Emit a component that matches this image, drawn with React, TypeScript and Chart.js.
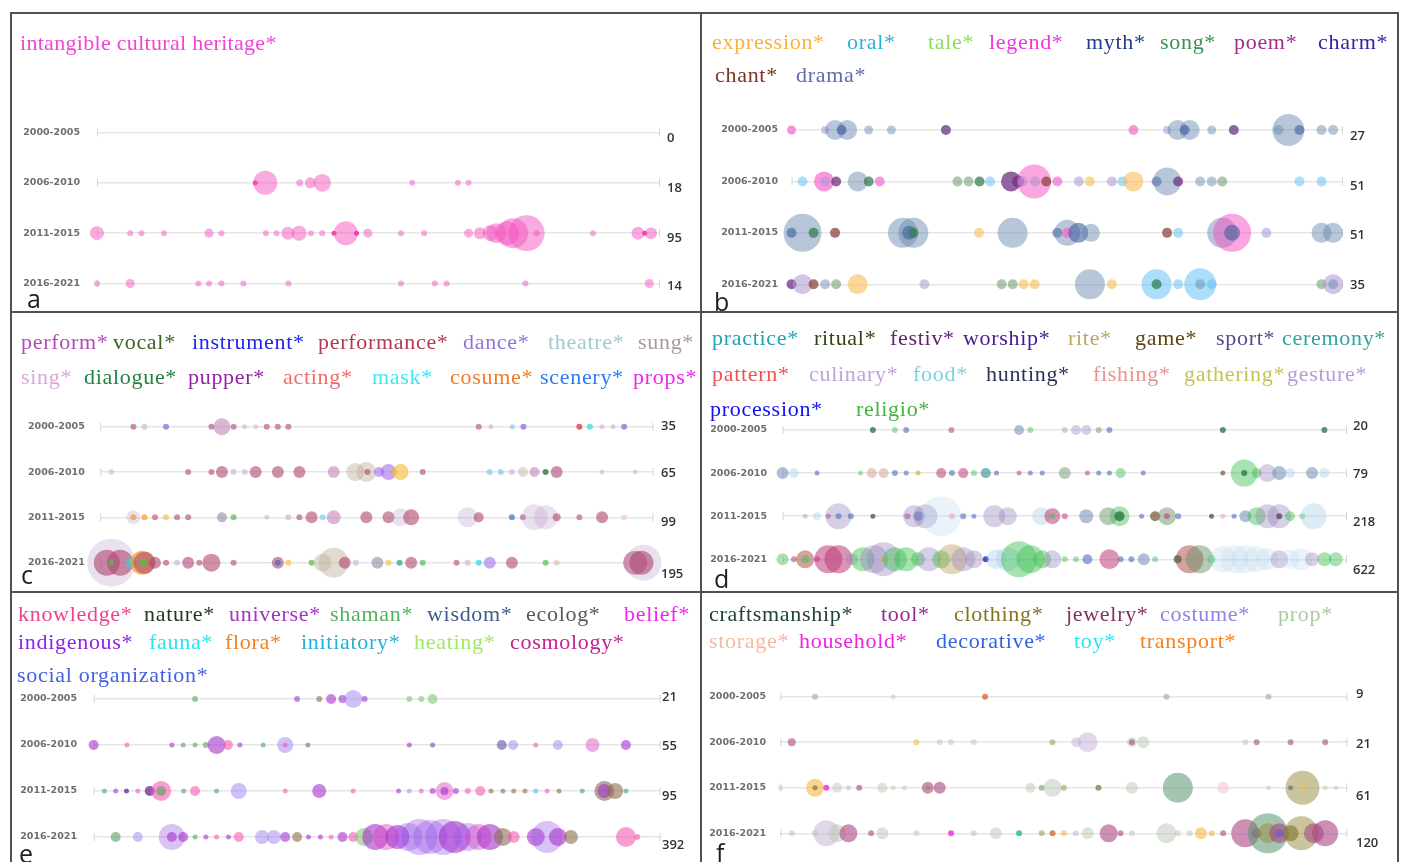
import React, { useEffect, useRef } from "react";
import { Chart, registerables } from "chart.js";

Chart.register(...registerables);

// ---------------- DATA ----------------
const periods = ["2000-2005", "2006-2010", "2011-2015", "2016-2021"];

const countsA = [0, 18, 95, 14];
const countsB = [27, 51, 51, 35];
const countsC = [35, 65, 99, 195];
const countsD = [20, 79, 218, 622];
const countsE = [21, 55, 95, 392];
const countsF = [9, 21, 61, 120];

// legend keywords (lines of words) and their colours
const wordsA = [["intangible cultural heritage*"]];
const colorsA = [["#f044d6"]];
const wordsB = [
  ["expression*", "oral*", "tale*", "legend*", "myth*", "song*", "poem*", "charm*"],
  ["chant*", "drama*"],
];
const colorsB = [
  ["#f7b23b", "#28b4d8", "#86e05a", "#f034e0", "#243c84", "#3c9256", "#a02c8e", "#3422a4"],
  ["#7c3424", "#5c6caa"],
];
const wordsC = [
  ["perform*", "vocal*", "instrument*", "performance*", "dance*", "theatre*", "sung*"],
  ["sing*", "dialogue*", "pupper*", "acting*", "mask*", "cosume*", "scenery*", "props*"],
];
const colorsC = [
  ["#b04cba", "#3e6224", "#2424f0", "#b23a4c", "#9072e0", "#a2c8d2", "#a89a9a"],
  ["#d8a8d8", "#228242", "#9224a2", "#f06a6a", "#40e6f0", "#f07a2a", "#2a7af0", "#f022f0"],
];
const wordsD = [
  ["practice*", "ritual*", "festiv*", "worship*", "rite*", "game*", "sport*", "ceremony*"],
  ["pattern*", "culinary*", "food*", "hunting*", "fishing*", "gathering*", "gesture*"],
  ["procession*", "religio*"],
];
const colorsD = [
  ["#22a2b2", "#324412", "#642272", "#441a92", "#baa862", "#624212", "#524a92", "#32a2a2"],
  ["#f05252", "#c2a2d8", "#82d0d8", "#2a3258", "#e89292", "#c8c052", "#b89ad8"],
  ["#1212f0", "#42b242"],
];
const wordsE = [
  ["knowledge*", "nature*", "universe*", "shaman*", "wisdom*", "ecolog*", "belief*"],
  ["indigenous*", "fauna*", "flora*", "initiatory*", "heating*", "cosmology*"],
  ["social organization*"],
];
const colorsE = [
  ["#f23e8e", "#223a1a", "#a232c2", "#52b262", "#425a8a", "#525a5a", "#f222f0"],
  ["#9222e2", "#22e8f2", "#f28222", "#22b2d8", "#a2e862", "#c22292"],
  ["#4262e2"],
];
const wordsF = [
  ["craftsmanship*", "tool*", "clothing*", "jewelry*", "costume*", "prop*"],
  ["storage*", "household*", "decorative*", "toy*", "transport*"],
];
const colorsF = [
  ["#224232", "#922a92", "#827222", "#823262", "#9282e2", "#aacaa2"],
  ["#f2baa2", "#f222e2", "#3262e2", "#22e8f2", "#f28222"],
];

// bubbles per row: [position 0-100, magnitude, keyword group]
type B = [number, number, string];
const bubblesA: B[][] = [
  [],
  [[28.1, 2.5, "P"], [29.9, 12, "p"], [36.0, 3.5, "p"], [37.9, 5.5, "p"], [40.0, 8.8, "p"], [56.0, 3, "p"], [64.1, 3, "p"], [66.0, 3, "p"]],
  [[0, 7, "p"], [5.9, 3, "p"], [7.9, 3, "p"], [11.9, 3, "p"], [19.9, 4.6, "p"], [22.1, 3, "p"], [30.0, 3, "p"], [31.9, 3, "p"], [33.9, 6.5, "p"], [35.9, 7.5, "p"], [38.0, 3, "p"], [40.0, 3, "p"], [42.1, 2.5, "P"], [44.2, 12, "p"], [46.1, 2.5, "P"], [48.1, 4.5, "p"], [54.0, 3, "p"], [58.1, 3, "p"], [66.0, 4.5, "p"], [68.0, 6, "p"], [69.9, 8, "p"], [70.9, 10, "p"], [72.8, 12, "p"], [73.9, 15, "p"], [76.3, 18, "p"], [78.1, 3, "p"], [88.1, 3, "p"], [96.1, 6.5, "p"], [97.3, 2.5, "P"], [98.4, 6, "p"]],
  [[0, 3, "p"], [5.9, 4.5, "p"], [18.0, 3, "p"], [19.9, 3, "p"], [22.1, 3, "p"], [26.0, 3, "p"], [34.0, 3, "p"], [54.0, 3, "p"], [60.0, 3, "p"], [62.1, 3, "p"], [76.1, 3, "p"], [98.1, 4.5, "p"]],
];
const bubblesB: B[][] = [
  [[0, 4.5, "pk"], [6.1, 4, "lv"], [7.9, 10, "bg"], [10.1, 10, "bg"], [9.1, 5, "bd"], [14.0, 4.5, "bg"], [18.1, 4.5, "bg"], [28.0, 5, "pu"], [62.0, 5, "pk"], [68.1, 4, "lv"], [70.0, 10, "bg"], [72.2, 10, "bg"], [71.3, 5, "bd"], [76.2, 4.5, "bg"], [80.2, 5, "pu"], [88.3, 5, "bg"], [90.1, 16, "bg"], [92.1, 5, "bd"], [96.1, 5, "bg"], [98.2, 5, "bg"]],
  [[2.0, 5, "lb"], [5.9, 10, "pk"], [6.1, 5, "lv"], [8.1, 5, "pu"], [12.0, 10, "bg"], [14.0, 5, "gr"], [16.0, 5, "pk"], [30.1, 5, "sg"], [32.1, 5, "sg"], [34.1, 5, "gr"], [36.0, 5, "lb"], [39.8, 10, "pu"], [41.1, 6, "pu"], [44.0, 17, "PK"], [41.9, 5, "lv"], [44.2, 5, "lv"], [46.2, 5, "br"], [48.2, 5, "pk"], [52.1, 5, "lv"], [54.1, 5, "yl"], [58.1, 5, "lv"], [60.0, 5, "lb"], [62.0, 10, "yl"], [66.2, 5, "bd"], [68.1, 14, "bg"], [70.1, 5, "pu"], [74.1, 5, "bg"], [76.2, 5, "bg"], [78.1, 5, "sg"], [92.1, 5, "lb"], [96.1, 5, "lb"]],
  [[2.0, 19, "bg"], [0, 5, "bd"], [4.0, 5, "gr"], [7.9, 5, "br"], [20.2, 15, "bg"], [22.1, 15, "bg"], [21.3, 7, "bd"], [22.1, 5, "gr"], [34.0, 5, "yl"], [40.1, 15, "bg"], [48.2, 5, "bd"], [50.0, 13, "bg"], [50.0, 5, "pk"], [52.0, 10, "bd"], [54.3, 9, "bg"], [68.1, 5, "br"], [70.1, 5, "lb"], [78.1, 15, "bg"], [79.9, 19, "PK"], [79.9, 8, "bd"], [86.1, 5, "lv"], [96.1, 10, "bg"], [98.2, 10, "bg"]],
  [[0, 5, "pu"], [2.0, 10, "lv"], [4.0, 5, "br"], [6.1, 5, "bg"], [8.1, 5, "sg"], [12.0, 10, "yl"], [24.1, 5, "lv"], [38.1, 5, "sg"], [40.1, 5, "sg"], [42.1, 5, "yl"], [44.1, 5, "yl"], [54.1, 15, "bg"], [58.1, 5, "yl"], [66.2, 15, "lb"], [66.2, 5, "gr"], [70.1, 5, "lb"], [74.1, 16, "lb"], [74.1, 5, "bg"], [76.2, 5, "lb"], [96.1, 5, "sg"], [98.2, 10, "lv"], [98.2, 5, "bg"]],
];
const bubblesC: B[][] = [
  [[6.0, 3, "ro"], [8.0, 3, "lv"], [11.9, 3, "pb"], [20.1, 3, "ro"], [22.0, 8.5, "mv"], [24.1, 3, "ro"], [26.1, 2.5, "lv"], [28.1, 2.5, "be"], [30.1, 3, "ro"], [32.1, 3, "ro"], [34.0, 3, "ro"], [68.4, 3, "ro"], [70.6, 2.5, "lv"], [74.5, 2.5, "lb"], [76.5, 3, "pb"], [86.6, 3, "rd"], [88.5, 3, "cy"], [90.7, 2.5, "lv"], [92.7, 2.5, "lv"], [94.7, 3, "pb"]],
  [[2.0, 3, "be"], [15.9, 3, "ro"], [20.1, 3, "ro"], [22.0, 6, "ro"], [24.1, 3, "lv"], [26.1, 3, "lv"], [28.1, 6, "ro"], [32.1, 6, "ro"], [36.0, 6, "ro"], [42.2, 6, "mv"], [46.1, 9, "be"], [48.1, 10, "be"], [48.3, 3, "ro"], [50.4, 5, "pu"], [52.1, 8, "pu"], [53.1, 3, "or"], [54.3, 8, "yl"], [58.3, 3, "ro"], [70.4, 3, "lb"], [72.4, 3, "lb"], [74.4, 3, "lv"], [76.4, 5, "be"], [78.5, 5, "mv"], [80.5, 3, "dg"], [82.5, 6, "ro"], [90.7, 2.5, "be"], [96.7, 2.5, "be"]],
  [[6.0, 7, "LV"], [6.0, 3, "or"], [8.0, 3, "or"], [9.9, 3, "ro"], [11.9, 3, "yl"], [13.9, 3, "ro"], [15.9, 3, "ro"], [22.0, 5, "gy"], [24.1, 3, "gr"], [30.1, 2.5, "lv"], [34.0, 3, "lv"], [36.0, 3, "ro"], [38.2, 6, "ro"], [40.2, 3, "lb"], [42.2, 7, "mv"], [48.1, 6, "ro"], [52.1, 6, "ro"], [54.3, 9, "LV"], [56.2, 8, "ro"], [66.4, 10, "LV"], [68.4, 5, "ro"], [74.4, 3, "bl"], [76.4, 3, "ro"], [78.5, 13, "LV"], [80.5, 12, "LV"], [82.5, 4, "ro"], [86.6, 3, "ro"], [90.7, 6, "ro"], [94.7, 3, "lp"]],
  [[2.0, 24, "LV"], [1.2, 13, "ro"], [3.6, 13, "ro"], [2.0, 3, "gr"], [5.6, 5, "cy"], [7.6, 12, "or"], [8.0, 11, "ro"], [7.8, 4, "gr"], [9.9, 6, "ro"], [11.9, 3, "ro"], [13.9, 3, "lv"], [15.9, 6, "ro"], [17.9, 3, "ro"], [20.1, 9, "ro"], [24.1, 3, "ro"], [32.1, 6, "ro"], [32.1, 3, "bl"], [34.0, 3, "yl"], [38.2, 3, "gr"], [40.2, 9, "be"], [42.2, 15, "be"], [44.2, 6, "ro"], [46.2, 3, "lv"], [50.1, 6, "gy"], [52.1, 3, "yl"], [54.1, 3, "te"], [56.2, 6, "ro"], [58.3, 3, "gr"], [64.4, 3, "ro"], [66.4, 3, "lv"], [68.4, 3, "cy"], [70.4, 6, "pu"], [74.4, 6, "ro"], [80.5, 3, "gr"], [82.5, 3, "be"], [96.7, 12, "ro"], [98.2, 18, "LV"], [97.8, 12, "ro"]],
];
const bubblesD: B[][] = [
  [[16.0, 3, "dg"], [19.9, 3, "gr"], [21.9, 3, "bl"], [29.9, 3, "ro"], [41.9, 5, "bg"], [43.9, 3, "gr"], [50.0, 3, "lv"], [52.0, 5, "lv"], [53.8, 5, "lv"], [56.0, 3, "gg"], [57.9, 3, "bl"], [78.0, 3, "dg"], [96.0, 3, "dg"]],
  [[0, 6, "bg"], [2.0, 5, "lb"], [6.1, 2.5, "bl"], [13.8, 2.5, "gr"], [15.8, 5, "be"], [17.9, 5, "be"], [19.9, 3, "bl"], [21.9, 2.5, "bl"], [24.0, 2.5, "yl"], [28.1, 5, "ro"], [30.0, 3, "bl"], [32.0, 5, "ro"], [33.9, 3, "gr"], [36.0, 5, "te"], [37.9, 2.5, "bl"], [41.9, 2.5, "ro"], [43.9, 2.5, "bl"], [46.0, 2.5, "bl"], [50.0, 6, "gg"], [54.0, 2.5, "ro"], [56.0, 2.5, "bl"], [57.9, 2.5, "bl"], [59.9, 5, "gr"], [63.9, 2.5, "bl"], [78.0, 2.5, "br"], [81.8, 13.5, "gr"], [81.8, 3, "dg"], [84.0, 5, "gr"], [85.9, 9, "lv"], [88.0, 7, "bg"], [89.9, 5, "lb"], [93.8, 6, "bg"], [96.0, 5, "lb"]],
  [[4.0, 2.5, "kh"], [6.1, 4, "lb"], [8.1, 2.5, "ro"], [9.9, 13, "lv"], [9.9, 3, "bl"], [12.1, 3, "bl"], [16.0, 2.5, "dk"], [22.1, 3, "ro"], [23.3, 11, "lv"], [24.1, 5, "bl"], [25.3, 12, "lv"], [28.1, 20, "LB"], [30.0, 3, "lp"], [32.0, 3, "bl"], [33.9, 2.5, "bl"], [37.5, 11, "lv"], [39.9, 9, "lv"], [45.8, 9, "lb"], [47.8, 8, "ro"], [47.8, 3, "gr"], [50.0, 3, "ro"], [53.8, 7, "bg"], [57.7, 9, "gg"], [59.7, 10, "gr"], [59.7, 5, "dg"], [63.6, 2.5, "bl"], [66.0, 5, "br"], [68.1, 9, "gg"], [68.1, 3, "ro"], [70.1, 3, "bl"], [76.0, 2.5, "dk"], [78.0, 2.5, "lp"], [80.0, 2.5, "bl"], [82.0, 6, "bg"], [84.0, 9, "gr"], [85.9, 12, "lv"], [88.0, 12, "lv"], [88.0, 3, "dk"], [89.9, 5, "gr"], [92.1, 3, "gr"], [94.1, 13, "lb"]],
  [[0, 6, "gr"], [2.0, 3, "ro"], [4.0, 9, "rb"], [4.0, 4, "gr"], [6.1, 3, "ro"], [8.1, 14, "ro"], [9.9, 14, "ro"], [12.3, 6, "lv"], [14.2, 12, "gr"], [16.2, 14, "lv"], [17.9, 17, "lv"], [17.9, 3, "yl"], [19.9, 12, "gr"], [21.9, 12, "gr"], [24.0, 7, "gr"], [25.9, 12, "lv"], [28.1, 9, "gr"], [30.0, 15, "kh"], [32.0, 12, "lv"], [33.9, 9, "lv"], [36.0, 3, "db"], [37.9, 10, "lb"], [39.9, 12, "lb"], [41.9, 18, "gr"], [43.9, 14, "gr"], [46.0, 9, "gr"], [47.8, 9, "lv"], [50.0, 3, "gr"], [52.0, 3, "gr"], [54.0, 5, "bl"], [57.9, 10, "ro"], [59.9, 3, "bl"], [61.8, 3, "bl"], [64.0, 6, "bg"], [66.0, 3, "gr"], [70.0, 4, "dg"], [72.1, 14, "rb"], [73.9, 14, "gg"], [76.0, 4, "gr"], [78.0, 13, "LB"], [80.0, 14, "LB"], [82.0, 14, "LB"], [84.0, 13, "LB"], [85.9, 11, "LB"], [88.0, 9, "lv"], [89.9, 10, "LB"], [91.9, 11, "LB"], [93.8, 7, "lv"], [96.0, 7, "gr"], [98.0, 7, "gr"]],
];
const bubblesE: B[][] = [
  [[17.9, 3, "gr"], [35.9, 3, "pu"], [39.8, 3, "br"], [41.9, 5, "pu"], [43.9, 4, "pu"], [45.8, 9, "lv"], [47.8, 3, "pu"], [55.7, 3, "lg"], [57.8, 3, "lg"], [59.8, 5, "lg"]],
  [[0, 5, "pu"], [5.9, 2.5, "pk"], [13.8, 2.5, "pu"], [15.8, 2.5, "gr"], [17.9, 2.5, "gr"], [19.8, 3, "gr"], [21.7, 9, "pu"], [23.7, 5, "pk"], [25.8, 2.5, "pu"], [29.9, 2.5, "gr"], [33.8, 8, "lv"], [33.8, 2.5, "pk"], [37.8, 2.5, "br"], [55.7, 2.5, "pu"], [59.8, 2.5, "bl"], [72.0, 5, "bl"], [74.0, 5, "lv"], [78.0, 2.5, "pk"], [81.9, 5, "lv"], [88.0, 7, "pp"], [93.9, 5, "pu"]],
  [[1.9, 2.5, "gr"], [3.9, 2.5, "pu"], [5.8, 2.5, "dp"], [7.8, 2.5, "pk"], [9.9, 5, "dp"], [11.9, 10, "pk"], [11.9, 5, "gr"], [15.9, 2.5, "gr"], [17.9, 5, "pk"], [21.7, 2.5, "gr"], [25.6, 8, "lv"], [33.8, 2.5, "pk"], [39.8, 7, "pu"], [45.8, 2.5, "pk"], [53.8, 2.5, "pu"], [55.7, 2.5, "lv"], [57.8, 2.5, "pk"], [59.8, 3, "pu"], [61.9, 9, "pp"], [61.9, 4, "pu"], [63.9, 3, "pu"], [66.0, 3, "pk"], [68.2, 5, "pk"], [70.1, 2.5, "br"], [72.2, 2.5, "br"], [74.1, 2.5, "br"], [76.1, 2.5, "br"], [78.0, 2.5, "lb"], [80.0, 2.5, "pk"], [82.1, 2.5, "br"], [86.2, 2.5, "gr"], [90.1, 10, "br"], [90.1, 7, "pu"], [92.0, 8, "br"], [93.9, 2.5, "gr"]],
  [[3.9, 5, "gr"], [7.8, 5, "lv"], [13.8, 13, "PU"], [13.8, 5, "pu"], [15.8, 5, "pu"], [17.9, 2.5, "gr"], [19.8, 2.5, "pu"], [21.7, 2.5, "pk"], [23.8, 2.5, "pu"], [25.6, 5, "pk"], [29.7, 7, "lv"], [31.8, 7, "lv"], [33.8, 5, "pu"], [35.9, 5, "br"], [37.9, 2.5, "pu"], [40.0, 2.5, "pu"], [41.9, 2.5, "pk"], [43.9, 5, "pu"], [45.8, 5, "pk"], [47.7, 9, "lg"], [49.7, 13, "pu"], [51.6, 13, "pp"], [53.6, 12, "pu"], [55.5, 14, "PU"], [57.5, 18, "PU"], [59.4, 17, "PU"], [61.7, 18, "PU"], [63.7, 16, "pu"], [66.0, 14, "PU"], [67.9, 13, "pp"], [69.9, 13, "pu"], [72.2, 9, "br"], [74.1, 6, "pk"], [78.0, 9, "pu"], [80.0, 16, "PU"], [81.9, 9, "pu"], [84.2, 7, "br"], [93.9, 10, "pk"], [95.9, 3, "pk"]],
];
const bubblesF: B[][] = [
  [[6.1, 3, "g2"], [19.9, 2.5, "gy"], [36.1, 3, "or"], [68.1, 3, "g2"], [86.1, 3, "g2"]],
  [[2.0, 4, "pl"], [24.0, 3, "yl"], [28.1, 3, "gy"], [30.1, 3, "gy"], [34.1, 3, "gy"], [48.0, 3, "ol"], [52.2, 5, "lv"], [54.2, 10, "lv"], [62.0, 5, "gy"], [62.0, 3, "pl"], [64.0, 6, "gy"], [82.0, 3, "gy"], [84.0, 3, "pl"], [90.0, 3, "pl"], [96.1, 3, "pl"]],
  [[0, 2.5, "gy"], [6.1, 9, "yl"], [6.1, 2.5, "br"], [8.1, 3, "mg"], [10.0, 5, "gy"], [12.0, 2.5, "lv"], [13.9, 3, "pl"], [18.0, 5, "gy"], [19.9, 2.5, "gy"], [21.9, 2.5, "gy"], [26.0, 6, "pl"], [28.1, 6, "pl"], [26.0, 2.5, "ol"], [44.1, 5, "gy"], [46.1, 3, "gn"], [48.0, 9, "gy"], [50.0, 3, "ol"], [56.1, 3, "br"], [62.0, 6, "gy"], [70.1, 15, "gn"], [78.1, 6, "lp"], [86.1, 2.5, "gy"], [90.0, 2.5, "pu"], [92.1, 17, "ol"], [92.1, 2.5, "yl"], [96.1, 2.5, "gy"], [98.0, 2.5, "gy"]],
  [[2.0, 3, "lv"], [6.1, 3, "gy"], [8.1, 13, "lv"], [10.0, 9, "gy"], [12.0, 9, "pl"], [16.0, 3, "pl"], [18.0, 6, "gy"], [24.0, 3, "gy"], [30.1, 3, "mg"], [34.1, 3, "lv"], [38.0, 6, "gy"], [42.1, 3, "te"], [46.1, 3, "ol"], [48.0, 3, "or"], [50.0, 3, "yl"], [52.1, 3, "lv"], [54.2, 6, "gy"], [57.9, 9, "pl"], [60.0, 3, "pl"], [62.0, 3, "gy"], [68.1, 10, "gy"], [70.1, 3, "gy"], [72.2, 3, "gy"], [74.2, 6, "yl"], [76.1, 3, "yl"], [78.1, 3, "pl"], [82.0, 14, "pl"], [84.0, 5, "pl"], [86.0, 20, "gn"], [86.0, 10, "ol"], [88.0, 10, "pl"], [88.0, 4, "pu"], [90.0, 8, "br"], [91.9, 17, "ol"], [94.1, 10, "pl"], [96.1, 13, "pl"]],
];

// ---------------- STYLES ----------------
const paletteA: Record<string, string> = { p: "rgba(243,85,192,0.5)", P: "rgba(238,40,160,0.85)" };
const paletteB: Record<string, string> = {
  pk: "rgba(245,95,205,0.65)", PK: "rgba(245,80,195,0.5)", lv: "rgba(170,150,205,0.55)", bg: "rgba(105,135,175,0.48)",
  bd: "rgba(65,95,160,0.6)", pu: "rgba(110,50,130,0.75)", lb: "rgba(100,195,245,0.55)", gr: "rgba(55,125,85,0.75)",
  sg: "rgba(120,160,120,0.6)", yl: "rgba(245,190,85,0.6)", br: "rgba(140,70,60,0.75)",
};
const paletteC: Record<string, string> = {
  ro: "rgba(175,70,110,0.6)", lv: "rgba(195,170,215,0.55)", LV: "rgba(185,155,205,0.3)", pb: "rgba(120,90,220,0.65)",
  be: "rgba(190,175,155,0.45)", pu: "rgba(155,100,235,0.55)", or: "rgba(245,160,40,0.7)", yl: "rgba(245,195,80,0.7)",
  lb: "rgba(120,200,240,0.65)", gr: "rgba(80,190,80,0.7)", gy: "rgba(140,140,160,0.6)", mv: "rgba(190,120,180,0.55)",
  rd: "rgba(230,60,90,0.8)", cy: "rgba(40,215,225,0.7)", te: "rgba(30,170,140,0.7)", bl: "rgba(60,110,200,0.7)",
  lp: "rgba(240,190,200,0.6)", dg: "rgba(50,120,60,0.8)",
};
const paletteD: Record<string, string> = {
  bg: "rgba(110,140,180,0.55)", lb: "rgba(170,205,230,0.4)", LB: "rgba(185,215,235,0.3)", lv: "rgba(150,130,190,0.38)",
  gr: "rgba(60,190,80,0.45)", dg: "rgba(40,110,60,0.75)", ro: "rgba(190,60,120,0.55)", be: "rgba(210,170,150,0.55)",
  bl: "rgba(80,110,190,0.6)", yl: "rgba(210,180,60,0.7)", te: "rgba(40,140,140,0.6)", kh: "rgba(180,150,80,0.4)",
  br: "rgba(120,80,50,0.7)", gg: "rgba(110,150,110,0.5)", lp: "rgba(230,170,190,0.6)", dk: "rgba(70,60,90,0.7)",
  rb: "rgba(170,70,70,0.5)", db: "rgba(30,30,220,0.8)",
};
const paletteE: Record<string, string> = {
  pu: "rgba(165,50,205,0.6)", PU: "rgba(150,80,230,0.35)", lv: "rgba(160,130,240,0.5)", pk: "rgba(245,90,180,0.6)",
  gr: "rgba(90,160,100,0.6)", br: "rgba(140,110,80,0.6)", dp: "rgba(100,40,140,0.75)", bl: "rgba(90,80,170,0.6)",
  lb: "rgba(100,190,240,0.7)", pp: "rgba(215,70,190,0.45)", lg: "rgba(130,200,120,0.6)",
};
const paletteF: Record<string, string> = {
  gy: "rgba(185,200,180,0.5)", g2: "rgba(160,165,160,0.6)", pl: "rgba(170,70,130,0.6)", yl: "rgba(245,190,80,0.65)",
  or: "rgba(210,110,50,0.8)", ol: "rgba(150,140,60,0.5)", lv: "rgba(195,175,215,0.5)", gn: "rgba(90,150,110,0.55)",
  mg: "rgba(240,40,220,0.8)", br: "rgba(130,110,70,0.7)", lp: "rgba(245,200,210,0.6)", pu: "rgba(120,90,200,0.8)",
  te: "rgba(30,190,150,0.8)",
};

type Layout = {
  left: number; top: number; width: number; height: number;
  lineStart: number; lineEnd: number; rowFirst: number; rowLast: number;
  labelPad: number; countX: number; countDy: number[];
  legendX: number[][]; legendBase: number[]; legendSpacing: number;
  letter: string; letterX: number; letterBase: number;
};

const layoutA: Layout = { left: 12, top: 14, width: 688, height: 297, lineStart: 97, lineEnd: 660, rowFirst: 132.5, rowLast: 283.5, labelPad: 17, countX: 667, countDy: [5.5, 5.5, 5, 3], legendX: [[20]], legendBase: [50], legendSpacing: 0.3, letter: "a", letterX: 27, letterBase: 308 };
const layoutB: Layout = { left: 702, top: 14, width: 695, height: 297, lineStart: 791.5, lineEnd: 1343, rowFirst: 130, rowLast: 284.3, labelPad: 13.5, countX: 1350, countDy: [6, 5, 2, 1], legendX: [[712, 847, 928, 989, 1086, 1160, 1234, 1318], [715, 796]], legendBase: [49, 82], legendSpacing: 0.7, letter: "b", letterX: 714, letterBase: 311 };
const layoutC: Layout = { left: 12, top: 313, width: 688, height: 278, lineStart: 100.2, lineEnd: 653.5, rowFirst: 426.7, rowLast: 562.7, labelPad: 15.4, countX: 661, countDy: [-0.7, 1.7, 4.7, 11.3], legendX: [[21, 113, 192, 318, 463, 548, 638], [21, 84, 188, 283, 372, 450, 540, 633]], legendBase: [349, 384], legendSpacing: 0.7, letter: "c", letterX: 21, letterBase: 584 };
const layoutD: Layout = { left: 702, top: 313, width: 695, height: 278, lineStart: 782.6, lineEnd: 1347, rowFirst: 430, rowLast: 559.3, labelPad: 15.6, countX: 1353, countDy: [-4, 0.7, 6, 11.4], legendX: [[712, 814, 890, 963, 1068, 1135, 1216, 1282], [712, 809, 913, 986, 1093, 1184, 1287], [710, 856]], legendBase: [345, 381, 416], legendSpacing: 0.7, letter: "d", letterX: 714, letterBase: 588 };
const layoutE: Layout = { left: 12, top: 593, width: 688, height: 269, lineStart: 93.6, lineEnd: 660.5, rowFirst: 699, rowLast: 837, labelPad: 16.6, countX: 662, countDy: [-2, 1.7, 5, 8.7], legendX: [[18, 144, 229, 330, 427, 526, 624], [18, 149, 225, 301, 414, 510], [17]], legendBase: [621, 649, 682], legendSpacing: 0.7, letter: "e", letterX: 19, letterBase: 863 };
const layoutF: Layout = { left: 702, top: 593, width: 695, height: 269, lineStart: 780.4, lineEnd: 1347.3, rowFirst: 696.7, rowLast: 833.3, labelPad: 14.4, countX: 1356, countDy: [-2, 2, 9, 10], legendX: [[709, 881, 954, 1066, 1160, 1278], [709, 799, 936, 1074, 1140]], legendBase: [621, 648], legendSpacing: 0.7, letter: "f", letterX: 716, letterBase: 862 };

// extra canvas room below each panel so that the axis label padding never squeezes the rows
const EXTRA = 30;

type PanelProps = { layout: Layout; bubbles: B[][]; palette: Record<string, string>; counts: number[]; words: string[][]; colors: string[][] };

function Panel({ layout, bubbles, palette, counts, words, colors }: PanelProps) {
  const ref = useRef<HTMLCanvasElement>(null);
  const cw = layout.width;
  const ch = layout.height + EXTRA;
  useEffect(() => {
    const L = layout;
    const spacing = (L.rowLast - L.rowFirst) / 3;
    const chartTop = L.rowFirst - spacing / 2;
    const chartBottom = L.rowLast + spacing / 2;
    const datasets = bubbles.map((row, i) => ({
      label: periods[i],
      data: row.map((b) => ({ x: b[0], y: i, r: b[1] })),
      backgroundColor: row.map((b) => palette[b[2]]),
      borderWidth: 0,
      hoverRadius: 0,
      clip: false as const,
    }));
    const rowPlugin = {
      id: "rowDecor",
      beforeDatasetsDraw(chart: any) {
        const ctx = chart.ctx;
        const ys = chart.scales.y;
        const { left, right } = chart.chartArea;
        ctx.save();
        ctx.strokeStyle = "#d4d4d4";
        ctx.lineWidth = 1;
        for (let i = 0; i < periods.length; i++) {
          const y = ys.getPixelForValue(i);
          ctx.beginPath();
          ctx.moveTo(left + 0.5, y - 4);
          ctx.lineTo(left + 0.5, y + 4);
          ctx.moveTo(right - 0.5, y - 4);
          ctx.lineTo(right - 0.5, y + 4);
          ctx.stroke();
        }
        ctx.restore();
      },
      afterDraw(chart: any) {
        const ctx = chart.ctx;
        const ys = chart.scales.y;
        ctx.save();
        ctx.font = '600 13px "Open Sans"';
        ctx.fillStyle = "#333";
        ctx.textAlign = "left";
        ctx.textBaseline = "middle";
        counts.forEach((c, i) => {
          ctx.fillText(String(c), L.countX - L.left, ys.getPixelForValue(i) + L.countDy[i]);
        });
        ctx.restore();
      },
    };
    const chart = new Chart(ref.current as HTMLCanvasElement, {
      type: "bubble",
      data: { datasets },
      options: {
        responsive: false,
        animation: false,
        events: [],
        layout: {
          autoPadding: false,
          padding: {
            top: chartTop - L.top,
            bottom: L.top + ch - chartBottom,
            left: 0,
            right: L.left + L.width - L.lineEnd,
          },
        },
        plugins: { legend: { display: false }, tooltip: { enabled: false } },
        scales: {
          x: { type: "linear", min: 0, max: 100, display: false },
          y: {
            type: "linear",
            min: -0.5,
            max: 3.5,
            reverse: true,
            afterBuildTicks: (s: any) => {
              s.ticks = periods.map((_, i) => ({ value: i }));
            },
            afterFit: (s: any) => {
              s.width = L.lineStart - L.left;
            },
            ticks: {
              callback: (v: any) => periods[v] ?? "",
              padding: L.labelPad,
              color: "#6e6e6e",
              font: { family: "DejaVu Sans", size: 9.5, weight: "bold" },
            },
            grid: { color: "#e6e6e6", lineWidth: 1.5, drawTicks: false },
            border: { display: false },
          },
        },
      } as any,
      plugins: [rowPlugin],
    });
    return () => chart.destroy();
  }, []);

  return (
    <>
      <canvas
        ref={ref}
        width={cw}
        height={ch}
        style={{ position: "absolute", left: layout.left, top: layout.top, width: cw, height: ch }}
      />
      {words.map((line, li) =>
        line.map((w, wi) => (
          <span
            key={li + "-" + wi}
            style={{
              position: "absolute",
              left: layout.legendX[li][wi],
              top: layout.legendBase[li] - 18.4,
              font: '22px "Liberation Serif"',
              lineHeight: "22px",
              letterSpacing: layout.legendSpacing + "px",
              whiteSpace: "nowrap",
              color: colors[li][wi],
            }}
          >
            {w}
          </span>
        ))
      )}
      <span
        style={{
          position: "absolute",
          left: layout.letterX,
          top: layout.letterBase - 22.2,
          font: '25px "Open Sans"',
          lineHeight: "25px",
          color: "#1e1e1e",
        }}
      >
        {layout.letter}
      </span>
    </>
  );
}

const lineColor = "#505050";

export default function App() {
  return (
    <div style={{ position: "absolute", left: 0, top: 0, width: 1408, height: 862, background: "#fff", overflow: "hidden" }}>
      <Panel layout={layoutA} bubbles={bubblesA} palette={paletteA} counts={countsA} words={wordsA} colors={colorsA} />
      <Panel layout={layoutB} bubbles={bubblesB} palette={paletteB} counts={countsB} words={wordsB} colors={colorsB} />
      <Panel layout={layoutC} bubbles={bubblesC} palette={paletteC} counts={countsC} words={wordsC} colors={colorsC} />
      <Panel layout={layoutD} bubbles={bubblesD} palette={paletteD} counts={countsD} words={wordsD} colors={colorsD} />
      <Panel layout={layoutE} bubbles={bubblesE} palette={paletteE} counts={countsE} words={wordsE} colors={colorsE} />
      <Panel layout={layoutF} bubbles={bubblesF} palette={paletteF} counts={countsF} words={wordsF} colors={colorsF} />
      {/* frame lines */}
      <div style={{ position: "absolute", left: 10, top: 12, width: 1389, height: 2, background: lineColor }} />
      <div style={{ position: "absolute", left: 10, top: 12, width: 2, height: 850, background: lineColor }} />
      <div style={{ position: "absolute", left: 1397, top: 12, width: 2, height: 850, background: lineColor }} />
      <div style={{ position: "absolute", left: 700, top: 12, width: 2, height: 850, background: lineColor }} />
      <div style={{ position: "absolute", left: 10, top: 311, width: 1389, height: 2, background: lineColor }} />
      <div style={{ position: "absolute", left: 10, top: 591, width: 1389, height: 2, background: lineColor }} />
    </div>
  );
}
